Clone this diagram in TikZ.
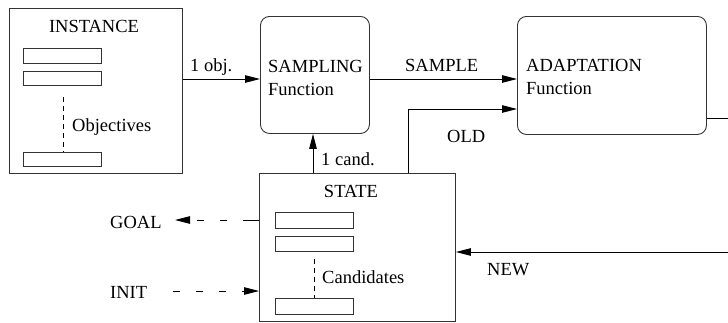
\documentclass[tikz,border=0pt]{standalone}
\usepackage{fontspec}
\setmainfont{Liberation Serif}
\usetikzlibrary{arrows.meta}
\begin{document}
\begin{tikzpicture}[x=1pt,y=-1pt,
  every node/.style={font=\fontsize{18.5}{20}\selectfont, inner sep=0pt},
  frame/.style={draw=black!80, line width=0.9pt, anchor=north west},
  slot/.style={draw=black!80, line width=0.9pt, anchor=north west, minimum width=78pt},
  rbox/.style={frame, rounded corners=9pt},
  lbl/.style={anchor=base west},
  arr/.style={draw=black, line width=0.9pt, -{Triangle[length=15pt,width=7.5pt]}},
  ln/.style={draw=black, line width=0.9pt},
  dsh/.style={draw=black, line width=0.9pt, dash pattern=on 5pt off 4pt},
]
\useasboundingbox (0,0) rectangle (728,322);

% INSTANCE
\node[frame, minimum width=173pt, minimum height=165pt] (inst) at (9,8) {};
\node[anchor=base] (insttxt) at (94,32) {INSTANCE};
\node[slot, minimum height=15pt] (i1) at (23,48) {};
\node[slot, minimum height=14pt] (i2) at (23,71) {};
\node[slot, minimum height=14pt] (i3) at (23,152) {};
\coordinate (idash) at (63,97);
\draw[dsh] (idash) -- (idash |- i3.north);
\node[lbl] (objtxt) at (72,131) {Objectives};

% SAMPLING
\node[rbox, minimum width=109pt, minimum height=117pt] (samp) at (260,16) {};
\node[lbl] (samptxt) at (268,72) {SAMPLING};
\node[lbl] (sampfn) at (268,95) {Function};

% ADAPTATION
\node[rbox, minimum width=189pt, minimum height=118pt] (adapt) at (517,16) {};
\node[lbl] (adapttxt) at (526,71) {ADAPTATION};
\node[lbl] (adaptfn) at (526,94) {Function};

% STATE
\node[frame, minimum width=196pt, minimum height=148pt] (state) at (259,173) {};
\node[anchor=base] (statetxt) at (351,197) {STATE};
\node[slot, minimum height=16pt] (s1) at (275,212) {};
\node[slot, minimum height=15pt] (s2) at (275,236) {};
\node[slot, minimum height=16pt] (s3) at (275,298) {};
\coordinate (sdash) at (314,259);
\draw[dsh] (sdash) -- (sdash |- s3.north);
\node[lbl] (candtxt) at (322,283) {Candidates};

% helper coordinates
\coordinate (y79) at (0,79);
\coordinate (oldc) at (408,109);
\coordinate (candx) at (313,0);
\coordinate (rtop) at (728,118);
\coordinate (rbot) at (728,252);
\coordinate (goalend) at (175,220);
\coordinate (initstart) at (173,291);

% connectors
\draw[arr] (inst.east |- y79) -- (samp.west |- y79);
\node[lbl] (objlbl) at (190,71) {1 obj.};

\draw[arr] (samp.east |- y79) -- (adapt.west |- y79);
\node[lbl] (samplelbl) at (405,71) {SAMPLE};

\draw[arr] (state.north -| oldc) |- (adapt.west |- oldc);
\node[lbl] (oldlbl) at (447,142) {OLD};

\draw[arr] (state.north -| candx) -- (samp.south -| candx);
\node[lbl] (candlbl) at (321,165) {1 cand.};

\draw[ln] (adapt.east |- rtop) -- (rtop);
\draw[arr] (rbot) -- (state.east |- rbot);
\node[lbl] (newlbl) at (487,275) {NEW};

\draw[arr, dash pattern=on 16pt off 16pt on 7pt off 16pt on 7pt off 60pt] (state.west |- goalend) -- (goalend);
\node[lbl] (goallbl) at (110,228) {GOAL};

\draw[arr, dash pattern=on 7pt off 16pt] (initstart) -- (state.west |- initstart);
\node[lbl] (initlbl) at (110,298) {INIT};
\end{tikzpicture}
\end{document}
